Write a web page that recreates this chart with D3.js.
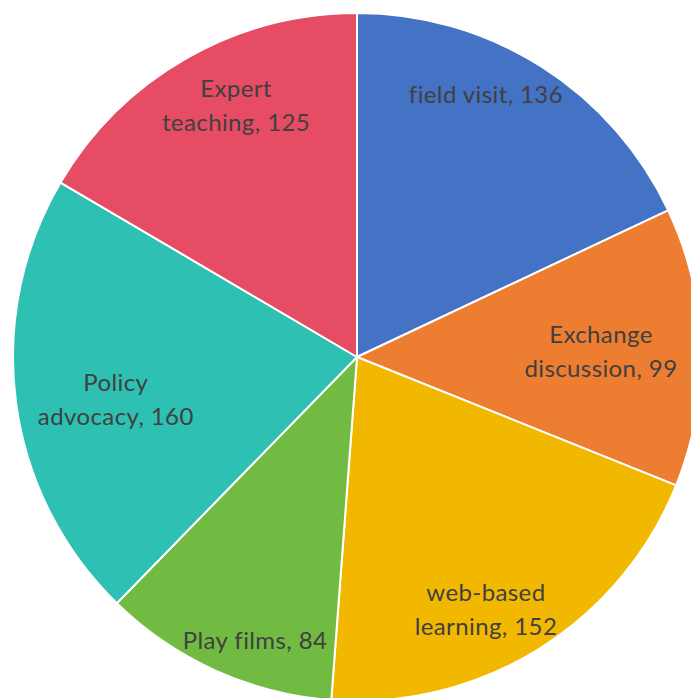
<!DOCTYPE html>
<html><head><meta charset="utf-8">
<script src="https://cdn.jsdelivr.net/npm/d3@7"></script>
<style>body{margin:0;background:#fff}svg{display:block}</style>
</head><body>
<svg id="chart" width="691" height="698"></svg>
<script>
const categories = ["field visit", "Exchange discussion", "web-based learning", "Play films", "Policy advocacy", "Expert teaching"];
const values = [136, 99, 152, 84, 160, 125];
const labelLines = [["field visit, 136"], ["Exchange", "discussion, 99"], ["web-based", "learning, 152"], ["Play films, 84"], ["Policy", "advocacy, 160"], ["Expert", "teaching, 125"]];
const colors = ["#4472C4", "#ED7D31", "#F2B800", "#72BB42", "#2EC0B3", "#E64C63"];
// label placement (radius in px, angle in degrees clockwise from top)
const labelPolar = [[292, 26.2], [244, 88.8], [284, 153.0], [301, 199.8], [245, 259.9], [279, 334.3]];

const svg = d3.select("#chart");
const cx = 357, cy = 357, R = 344;
const g = svg.append("g").attr("transform", `translate(${cx},${cy})`);
const pie = d3.pie().sort(null).value(d => d)(values);
const arc = d3.arc().innerRadius(0).outerRadius(R);
g.selectAll("path").data(pie).join("path")
  .attr("d", arc).attr("fill", (d, i) => colors[i])
  .attr("stroke", "#fff").attr("stroke-width", 2).attr("stroke-linejoin", "round");

const lh = 34;
labelLines.forEach((lines, i) => {
  const [r, a] = labelPolar[i];
  const rad = a * Math.PI / 180;
  const x = r * Math.sin(rad), y = -r * Math.cos(rad);
  const t = g.append("text").attr("text-anchor", "middle")
    .attr("font-family", "Lato, 'Open Sans', sans-serif").attr("font-size", 24)
    .attr("letter-spacing", "0.4px")
    .attr("fill", "#404040");
  lines.forEach((l, j) => {
    t.append("tspan").attr("x", x).attr("y", y + (j - (lines.length - 1) / 2) * lh).attr("dy", "0.35em").text(l);
  });
});
</script>
</body></html>
